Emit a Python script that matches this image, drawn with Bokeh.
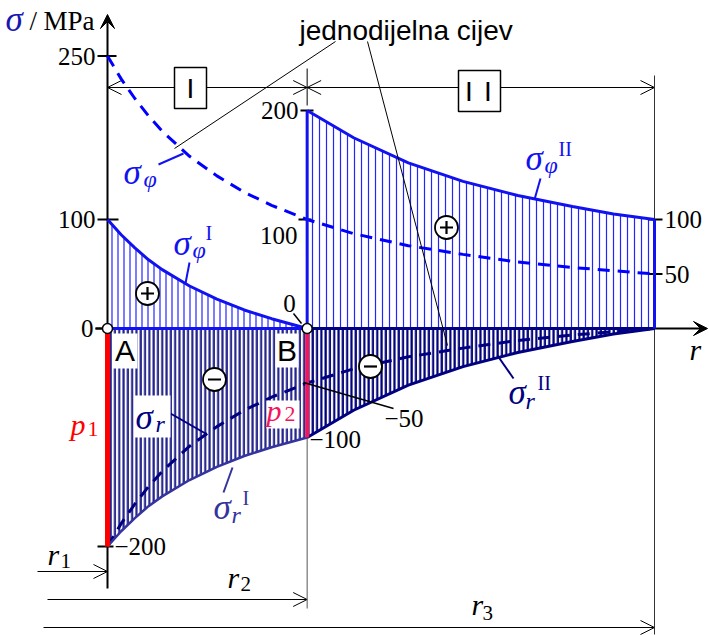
import numpy as np
from bokeh.plotting import figure
from bokeh.models import Range1d, Label, Arrow, OpenHead, VeeHead
from bokeh.embed import file_html
from bokeh.resources import INLINE

# ---------------- data ----------------
r1, r2, r3 = 1.00, 1.73, 3.00
r_I = [1.00, 1.05, 1.10, 1.15, 1.20, 1.30, 1.40, 1.50, 1.60, 1.73]
sphi_I = [100, 86, 74, 63, 54, 39, 27, 17, 9, 0]
sr_I = [-200, -186, -174, -163, -154, -139, -127, -117, -109, -100]
r_II = [1.73, 1.90, 2.10, 2.30, 2.50, 2.70, 2.85, 3.00]
sphi_II = [200, 175, 152, 135, 122, 112, 105, 100]
sr_II = [-100, -75, -52, -35, -22, -12, -5, 0]
r_single = [1.00, 1.05, 1.10, 1.15, 1.20, 1.30, 1.40, 1.50, 1.60, 1.73,
            1.90, 2.10, 2.30, 2.50, 2.70, 2.85, 3.00]
sphi_single = [250, 229, 211, 195, 181, 158, 140, 125, 113, 100, 87, 76, 68, 61, 56, 53, 50]
sr_single = [-200, -179, -161, -145, -131, -108, -90, -75, -63, -50, -37, -26, -18, -11, -6, -3, 0]
left_ticks = [250, 100, 0, -200]
mid_ticks = [200, 100]
right_ticks = [100, 50]

# ---------------- layout helpers (picture pixels -> data) ----------------
SX, SY = 273.5, 1.09
def X(px):
    return r1 + (px - 107) / SX
def Y(py):
    return (328 - py) / SY

BLUE = "#1212f0"
HBLUE = "#2424ff"
NAVY1 = "#34349e"
HNAVY1 = "#24248c"
NAVY2 = "#000080"
HNAVY2 = "#00007a"
SERIF = "Liberation Serif"
SANS = "Liberation Sans"

W, H = 709, 635
p = figure(width=W, height=H, x_range=Range1d(X(0), X(W)),
           y_range=Range1d(Y(H), Y(0)), output_backend="svg",
           toolbar_location=None, min_border=0,
           x_axis_location=None, y_axis_location=None)
p.grid.visible = False
p.outline_line_color = None
p.background_fill_color = "white"

def zeros(a):
    return [0] * len(a)

# ---------------- hatched stress areas ----------------
p.varea(x=r_I, y1=zeros(r_I), y2=sphi_I, fill_alpha=0, hatch_pattern="vertical_line",
        hatch_color=HBLUE, hatch_weight=1.2, hatch_scale=6)
p.varea(x=r_I, y1=sr_I, y2=zeros(r_I), fill_alpha=0, hatch_pattern="vertical_line",
        hatch_color=HNAVY1, hatch_weight=2.2, hatch_scale=4.3)
p.varea(x=r_II, y1=zeros(r_II), y2=sphi_II, fill_alpha=0, hatch_pattern="vertical_line",
        hatch_color=HBLUE, hatch_weight=1.2, hatch_scale=7)
p.varea(x=r_II, y1=sr_II, y2=zeros(r_II), fill_alpha=0, hatch_pattern="vertical_line",
        hatch_color=HNAVY2, hatch_weight=2.2, hatch_scale=4.3)

# ---------------- axes (underlay) ----------------
p.add_layout(Arrow(end=VeeHead(size=14, fill_color="black", line_color="black"),
                   x_start=r1, y_start=0, x_end=r1, y_end=Y(14),
                   line_width=2, line_color="black", level="underlay"))
p.add_layout(Arrow(end=VeeHead(size=14, fill_color="black", line_color="black"),
                   x_start=X(95), y_start=0, x_end=X(707), y_end=0,
                   line_width=2, line_color="black", level="underlay"))

# dimension lines
def dim(xs, ys, xe, ye, both=False):
    p.add_layout(Arrow(end=OpenHead(size=14, line_width=1),
                       start=OpenHead(size=14, line_width=1) if both else None,
                       x_start=xs, y_start=ys, x_end=xe, y_end=ye,
                       line_width=1, line_color="black", level="underlay"))
dim(r1, Y(87), r2, Y(87), both=True)
dim(r2, Y(87), r3, Y(87), both=True)
dim(X(37), Y(571), r1, Y(571))
dim(X(47), Y(599), r2, Y(599))
dim(X(43), Y(627), r3, Y(627))

def seg(x0, y0, x1, y1, color="black", w=1.0):
    p.segment(x0=[x0], y0=[y0], x1=[x1], y1=[y1], line_color=color, line_width=w)

seg(r2, Y(68), r2, Y(105))
seg(r3, Y(75), r3, Y(634), "#333333", 1)
seg(r2, Y(437), r2, Y(608), "#555555", 1)
seg(r1, left_ticks[3], r1, Y(588), "black", 2)

# ticks
for v, a, b in zip(left_ticks, [97, 97, 95, 97], [116, 118, 107, 113]):
    seg(X(a), v, X(b), v, "black", 2)
for v, a, b in zip(mid_ticks, [300, 298], [313, 311]):
    seg(X(a), v, X(b), v, "black", 2)
for v in right_ticks:
    seg(X(648), v, X(662), v, "black", 2)

# ---------------- single-piece tube (dashed) ----------------
p.line(r_single, sphi_single, line_color="#0000ff", line_width=3, line_dash="12 8")
p.line(r_single, sr_single, line_color=NAVY2, line_width=3, line_dash="12 8")

# ---------------- boundaries ----------------
p.line(r_I, sphi_I, line_color=BLUE, line_width=3)
p.line(r_I, sr_I, line_color=NAVY1, line_width=2.5)
p.line(r_II, sphi_II, line_color=BLUE, line_width=3)
p.line(r_II, sr_II, line_color=NAVY2, line_width=3)
p.line([r1, r2], [0, 0], line_color=BLUE, line_width=3)
p.line([r2, r3], [0, 0], line_color=NAVY2, line_width=3)
p.line([r2, r2], [0, sphi_II[0]], line_color=BLUE, line_width=3)
p.line([r3, r3], [0, sphi_II[-1]], line_color=BLUE, line_width=3)
p.line([r1, r1], [0, sr_I[0]], line_color="#ff0000", line_width=5)
p.line([r2, r2], [0, sr_II[0]], line_color="#f5145a", line_width=4)

# leader lines
seg(X(335), Y(41), X(174), Y(148), "black", 1)
seg(X(367), Y(41), X(447), Y(345), "black", 1)
seg(X(158), Y(164), X(183), Y(153), BLUE, 2)
seg(X(189), Y(262), X(185), Y(283), BLUE, 2)
seg(X(540), Y(178), X(534), Y(199), BLUE, 2)
seg(X(513), Y(378), X(497), Y(355), NAVY2, 2)
seg(X(223), Y(492), X(232), Y(467), NAVY1, 2)
seg(X(170), Y(413), X(205), Y(433), NAVY2, 2)
seg(X(303), Y(382), X(393), Y(408), "black", 1.5)
seg(X(293), Y(313), X(301), Y(323), "black", 1.5)

# white label backgrounds and boxes
def box(l, r, t, b, line=None):
    p.quad(left=[X(l)], right=[X(r)], top=[Y(t)], bottom=[Y(b)], fill_color="white",
           line_color=line if line else None, line_width=1.5)
box(112, 137, 333, 368)
box(275, 298, 333, 367)
box(134, 170, 395, 437)
box(266, 299, 400, 428)
box(174, 206, 67, 108, "black")
box(458, 500, 70, 111, "black")

# nodes and sign circles
p.scatter([r1, r2], [0, 0], size=10, fill_color="white", line_color="black", line_width=1.5)
px_plus = [147, 446]
py_plus = [293, 227]
px_minus = [214, 370]
py_minus = [379, 366]
p.scatter([X(v) for v in px_plus + px_minus], [Y(v) for v in py_plus + py_minus], size=23,
          fill_color="white", line_color="black", line_width=1.8)
p.scatter([X(v) for v in px_plus], [Y(v) for v in py_plus], marker="cross", size=13,
          line_color="black", line_width=2.2)
p.scatter([X(v) for v in px_minus], [Y(v) for v in py_minus], marker="dash", size=13,
          line_color="black", line_width=2.2)

# ---------------- texts ----------------
DESC = 0.28
def lab(text, xp, yp, size, font=SERIF, style="normal", color="black", align="left",
        baseline="alphabetic", ydata=None):
    if baseline == "alphabetic":
        yp = yp - DESC * size
    p.add_layout(Label(x=X(xp), y=Y(yp) if ydata is None else ydata, text=text,
                       text_font=font, text_font_size=f"{size}px", text_font_style=style,
                       text_color=color, text_align=align, text_baseline=baseline))

# tick labels
for v, t in zip(left_ticks[:3], ["250", "100", "0"]):
    lab(t, 95 if v else 93, 0, 25, align="right", baseline="middle", ydata=v)
lab("\u2212200", 114, 0, 25, baseline="middle", ydata=left_ticks[3])
lab("200", 298, 0, 25, align="right", baseline="middle", ydata=mid_ticks[0])
lab("100", 297, 235, 25, align="right", baseline="middle")
lab("0", 289, 303, 25, align="center", baseline="middle")
lab("\u2212100", 309, 439, 25, baseline="middle")
lab("\u221250", 384, 418, 25, baseline="middle")
for v in right_ticks:
    lab(str(v), 664, 0, 25, baseline="middle", ydata=v)

# axis titles
lab("\u03c3", 5, 29, 35, style="italic", color="#1818b0")
lab("/", 29, 28, 27)
lab("MPa", 43, 28, 27)
lab("r", 689, 357, 30, style="italic")

# radii
lab("r", 47, 562, 30, style="italic")
lab("1", 60, 566, 21)
lab("r", 227, 585, 30, style="italic")
lab("2", 240, 589, 21)
lab("r", 471, 612, 30, style="italic")
lab("3", 482, 618, 21)

# pressures
lab("p", 70, 432, 30, style="italic", color="#ff0000")
lab("1", 87, 435, 22, color="#ff0000")
lab("p", 266, 418, 30, style="italic", color="#f5145a")
lab("2", 284, 420, 22, color="#f5145a")

# points
lab("A", 124.5, 358, 30, font=SANS, align="center")
lab("B", 286.5, 358, 30, font=SANS, align="center")

# boxes
lab("I", 190, 87.5, 28, font=SANS, align="center", baseline="middle")
lab("I", 468.5, 90.5, 28, font=SANS, align="center", baseline="middle")
lab("I", 487.5, 90.5, 28, font=SANS, align="center", baseline="middle")

lab("jednodijelna cijev", 299, 38, 28, font=SANS)

# stress symbols
def sig(xp, yp, sub, sup, color, subdy=3, supdy=-14, subdx=17, supdx=31):
    lab("\u03c3", xp, yp, 35, style="italic", color=color)
    lab(sub, xp + subdx, yp + subdy, 24, style="italic", color=color)
    if sup:
        lab(sup, xp + supdx, yp + supdy, 20, color=color)

sig(123, 182, "\u03c6", None, BLUE, subdx=20)
sig(173, 253, "\u03c6", "I", BLUE, supdy=-15, subdx=19, supdx=32)
sig(525, 168, "\u03c6", "II", BLUE, subdx=19, supdx=33)
sig(508, 402, "r", "II", NAVY2, subdy=5, subdx=17, supdx=29)
sig(213, 517, "r", "I", NAVY1, subdy=4, subdx=18, supdx=29)
sig(135, 427, "r", None, NAVY2, subdy=3, subdx=20)

open("out.html", "w").write(file_html(p, INLINE))
